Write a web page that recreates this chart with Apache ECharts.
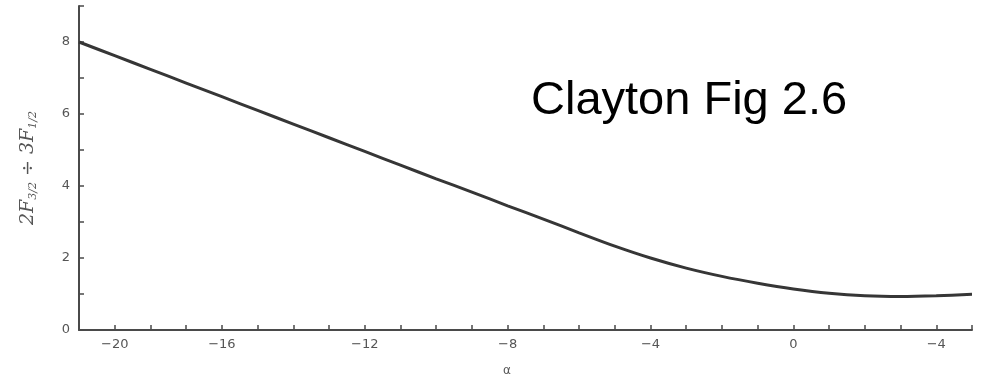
<!DOCTYPE html>
<html>
<head>
<meta charset="utf-8">
<script src="https://cdn.jsdelivr.net/npm/echarts@6/dist/echarts.min.js"></script>
<style>
  html, body { margin: 0; padding: 0; background: #fff; }
  #chart { width: 984px; height: 380px; }
</style>
</head>
<body>
<div id="chart"></div>
<script>
// curve: alpha vs 2F3/2 / 3F1/2
const alphas = [-20, -19, -18, -17, -16, -15, -14, -13, -12, -11, -10, -9, -8, -7, -6, -5, -4, -3, -2, -1, 0, 1, 2, 3, 4, 5]
const ratios = [8.00, 7.62, 7.24, 6.86, 6.48, 6.10, 5.72, 5.34, 4.96, 4.58, 4.20, 3.83, 3.45, 3.08, 2.70, 2.33, 2.00, 1.72, 1.49, 1.30, 1.14, 1.02, 0.95, 0.93, 0.95, 0.99]

// x tick labels as printed in the scan (the "-20" sits one tick right of the axis)
const xLabelAt = [-19, -16, -12, -8, -4, 0, 4]
const xLabelText = ['−20', '−16', '−12', '−8', '−4', '0', '−4']
const yLabelAt = [0, 2, 4, 6, 8]

const FONT = 'DejaVu Sans, sans-serif'
const AXIS = '#4a4a4a'
const LABEL = '#555'

const chart = echarts.init(document.getElementById('chart'))

chart.setOption({
  animation: false,
  backgroundColor: '#fff',
  title: {
    text: 'Clayton Fig 2.6',
    left: 526,
    top: 73,
    textStyle: { fontFamily: 'Liberation Sans, Arial, sans-serif', fontSize: 47, fontWeight: 'normal', color: '#000' },
  },
  grid: { left: 79, right: 12, top: 6, bottom: 50 },
  xAxis: {
    type: 'value',
    min: -20,
    max: 5,
    interval: 1,
    splitLine: { show: false },
    axisLine: { show: true, onZero: false, lineStyle: { color: AXIS, width: 2 } },
    axisTick: { show: true, inside: true, length: 5, lineStyle: { color: AXIS, width: 1.5 } },
    axisLabel: {
      margin: 8,
      color: LABEL,
      fontFamily: FONT,
      fontSize: 13,
      showMinLabel: true,
      showMaxLabel: true,
      formatter: (v) => {
        const i = xLabelAt.indexOf(Math.round(v))
        return i >= 0 ? xLabelText[i] : ''
      },
    },
  },
  yAxis: {
    type: 'value',
    min: 0,
    max: 9,
    interval: 1,
    splitLine: { show: false },
    axisLine: { show: true, onZero: false, lineStyle: { color: AXIS, width: 2 } },
    axisTick: { show: true, inside: true, length: 5, lineStyle: { color: AXIS, width: 1.5 } },
    axisLabel: {
      margin: 9,
      color: LABEL,
      fontFamily: FONT,
      fontSize: 13,
      formatter: (v) => (yLabelAt.includes(v) ? String(v) : ''),
    },
    name: '{n|2F}{s|3/2}{n| ÷ 3F}{s|1/2}',
    nameLocation: 'middle',
    nameRotate: 90,
    nameGap: 40,
    nameTextStyle: {
      rich: {
        n: { fontFamily: 'DejaVu Serif, serif', fontStyle: 'italic', fontSize: 19, color: LABEL },
        s: { fontFamily: 'DejaVu Serif, serif', fontStyle: 'italic', fontSize: 11, color: LABEL, padding: [10, 0, 0, 0] },
      },
    },
  },
  graphic: [
    {
      type: 'text',
      left: 503,
      top: 365,
      style: { text: 'α', fill: LABEL, fontFamily: FONT, fontSize: 12 },
    },
  ],
  series: [
    {
      type: 'line',
      data: alphas.map((a, i) => [a, ratios[i]]),
      showSymbol: false,
      smooth: 0.3,
      lineStyle: { color: '#363636', width: 3 },
    },
  ],
})
</script>
</body>
</html>
